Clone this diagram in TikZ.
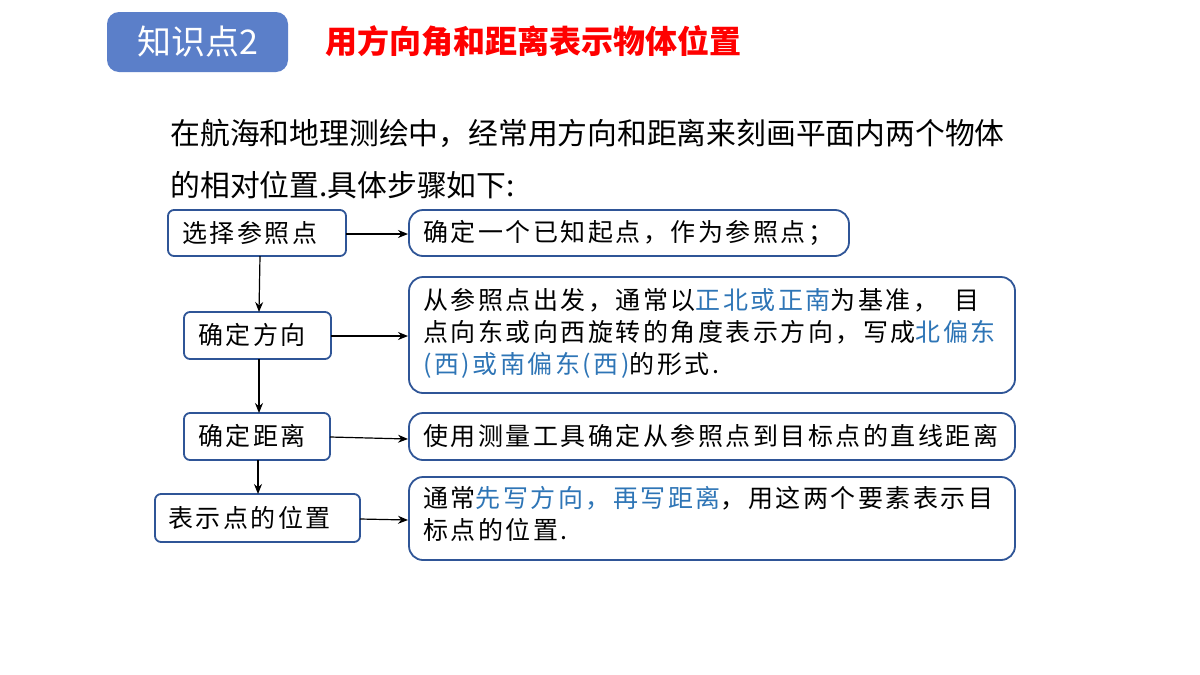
\documentclass[tikz,border=0pt]{standalone}
\usepackage{fontspec}
\setmainfont{Noto Sans CJK SC}
\newfontfamily\boxfont[LetterSpace=10]{Noto Sans CJK SC}
\usetikzlibrary{arrows.meta}
\definecolor{tblue}{HTML}{5B7FC9}
\definecolor{bord}{HTML}{2F5597}
\definecolor{kw}{HTML}{2E75B6}
\tikzset{
  lbox/.style={draw=bord,line width=0.9pt,rounded corners=3pt,inner sep=0pt},
  rbox/.style={draw=bord,line width=0.9pt,rounded corners=7pt,inner sep=0pt},
  txt/.style={font=\boxfont\fontsize{12.5pt}{16pt}\selectfont,anchor=west,align=left,inner sep=0pt},
  arr/.style={-{Stealth[length=5pt,width=4pt]},line width=0.6pt,black}
}
\newcommand{\kwc}[1]{\textcolor{kw}{#1}}
\begin{document}
\begin{tikzpicture}[x=0.5pt,y=-0.5pt]
\path[use as bounding box,fill=white] (0,0) rectangle (1200,675);
\node[fill=tblue,rounded corners=6pt,minimum width=90.5pt,minimum height=30pt,text=white,font=\fontsize{17pt}{20pt}\selectfont] (tt) at (197.5,42) {知识点2};
\node[anchor=west,text=red,font=\bfseries\fontsize{16pt}{18pt}\selectfont] (ti) at (318,41) {用方向角和距离表示物体位置};
\node[anchor=west,font=\fontsize{14.9pt}{26pt}\selectfont,align=left,inner sep=0pt] (p) at (170,159) {在航海和地理测绘中，经常用方向和距离来刻画平面内两个物体\\的相对位置.具体步骤如下:};
% left boxes
\draw[lbox] (168,210) rectangle (346,256); \node[txt] (l1) at (182,233) {选择参照点};
\draw[lbox] (184,312) rectangle (331,359); \node[txt] (l2) at (198,335) {确定方向};
\draw[lbox] (184,413) rectangle (330,460); \node[txt] (l3) at (198,436) {确定距离};
\draw[lbox] (155,494) rectangle (360,542); \node[txt] (l4) at (168,518) {表示点的位置};
% right boxes
\draw[rbox] (409,210) rectangle (849,256); \node[txt] (r1) at (423,233) {确定一个已知起点，作为参照点；};
\draw[rbox] (409,277) rectangle (1015,393); \node[txt] (r2) at (423,333) {从参照点出发，通常以\kwc{正北或正南}为基准，\hspace{8pt}目\\点向东或向西旋转的角度表示方向，写成\kwc{北偏东}\\\kwc{(西)或南偏东(西)}的形式.};
\draw[rbox] (409,413) rectangle (1015,460); \node[txt] (r3) at (423,436) {使用测量工具确定从参照点到目标点的直线距离};
\draw[rbox] (409,477) rectangle (1015,560); \node[txt] (r4) at (423,514) {通常\kwc{先写方向，再写距离}，用这两个要素表示目\\标点的位置.};
% coordinates
\coordinate (a1) at (346,234); \coordinate (b1) at (408,234);
\coordinate (a2) at (331,336); \coordinate (b2) at (408,336);
\coordinate (a3) at (330,437); \coordinate (b3) at (408,439);
\coordinate (a4) at (360,519); \coordinate (b4) at (408,520);
\coordinate (v1) at (260,256); \coordinate (w1) at (259,312);
\coordinate (v2) at (259,359); \coordinate (w2) at (259,413);
\coordinate (v3) at (258,460); \coordinate (w3) at (258,494);
\draw[arr] (a1)--(b1); \draw[arr] (a2)--(b2); \draw[arr] (a3)--(b3); \draw[arr] (a4)--(b4);
\draw[arr] (v1)--(w1); \draw[arr] (v2)--(w2); \draw[arr] (v3)--(w3);
\end{tikzpicture}
\end{document}
